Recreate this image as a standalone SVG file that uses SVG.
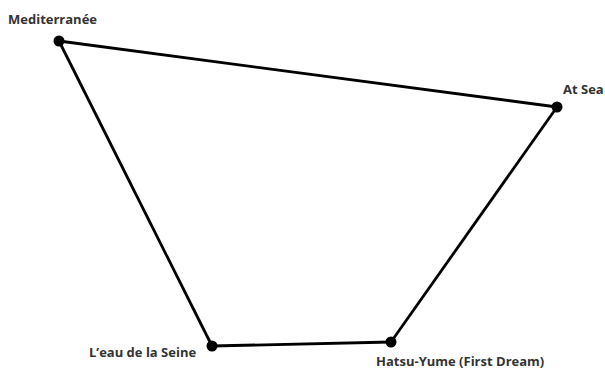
<svg xmlns="http://www.w3.org/2000/svg" width="605" height="368" viewBox="0 0 605 368">
<style>
.lbl{font-family:"Open Sans","Noto Sans",sans-serif;font-size:13px;font-weight:700;fill:#333}
.dot{fill:#000}
.edge{stroke:#000;stroke-width:2.8;fill:none}
</style>
<rect width="605" height="368" fill="#fff"/>
<g id="connectors">
<line class="edge" x1="59" y1="41" x2="557" y2="107"/>
<line class="edge" x1="557" y1="107" x2="391" y2="342"/>
<line class="edge" x1="391" y1="342" x2="212" y2="346"/>
<line class="edge" x1="212" y1="346" x2="59" y2="41"/>
</g>
<g id="mediterranee"><circle class="dot" cx="59" cy="41" r="5.5"/><text class="lbl" x="8" y="24">Mediterranée</text></g>
<g id="atsea"><circle class="dot" cx="557" cy="107" r="5.5"/><text class="lbl" x="563" y="94">At Sea</text></g>
<g id="leau"><circle class="dot" cx="212" cy="346" r="5.5"/><text class="lbl" x="89" y="357">L’eau de la Seine</text></g>
<g id="hatsu"><circle class="dot" cx="391" cy="342" r="5.5"/><text class="lbl" x="376" y="366">Hatsu-Yume (First Dream)</text></g>
</svg>
